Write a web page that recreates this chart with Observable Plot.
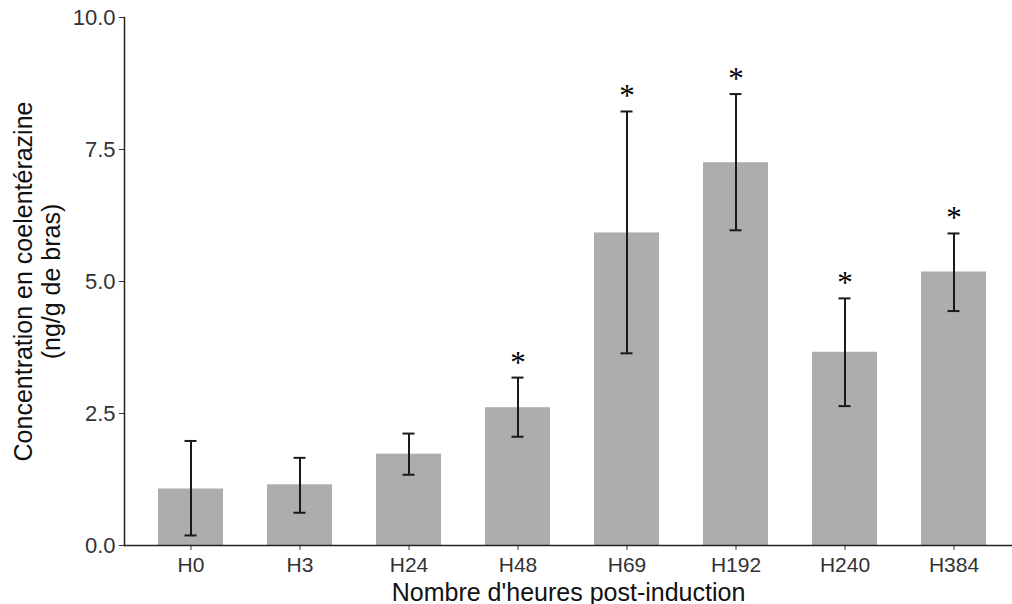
<!DOCTYPE html>
<html>
<head>
<meta charset="utf-8">
<script src="https://cdn.jsdelivr.net/npm/d3@7"></script>
<script src="https://cdn.jsdelivr.net/npm/@observablehq/plot@0.6"></script>
<style>
  html, body { margin: 0; padding: 0; background: #fff; }
  #chart svg { display: block; }
</style>
</head>
<body>
<div id="chart"></div>
<script>
const categories = ["H0", "H3", "H24", "H48", "H69", "H192", "H240", "H384"];
const means = [1.07, 1.15, 1.73, 2.61, 5.92, 7.25, 3.66, 5.18];
const lower = [0.19, 0.62, 1.34, 2.06, 3.64, 5.97, 2.64, 4.44];
const upper = [1.98, 1.66, 2.12, 3.18, 8.22, 8.55, 4.68, 5.91];
const significant = [false, false, false, true, true, true, true, true];
const yTicks = [0, 2.5, 5, 7.5, 10];
const yTitle = ["Concentration en coelentérazine\n(ng/g de bras)"];
const xTitle = "Nombre d'heures post-induction";

const data = categories.map((c, i) => ({
  cat: c, mean: means[i], lo: lower[i], hi: upper[i], sig: significant[i]
}));

const font = "'Liberation Sans', Arial, Helvetica, sans-serif";

const chart = Plot.plot({
  width: 1012,
  height: 604,
  marginLeft: 124,
  marginRight: 0,
  marginTop: 17,
  marginBottom: 59,
  style: { fontFamily: font, background: "#fff" },
  x: { type: "band", domain: categories, range: [124, 1021], paddingInner: 0.4, paddingOuter: 0.3 },
  y: { domain: [0, 10] },
  marks: [
    Plot.barY(data, { x: "cat", y: "mean", fill: "#adadad" }),
    Plot.ruleX(data, { x: "cat", y1: "lo", y2: "hi", stroke: "#1a1a1a", strokeWidth: 2 }),
    Plot.tickY(data, { x: "cat", y: "lo", stroke: "#1a1a1a", strokeWidth: 2, insetLeft: 26.5, insetRight: 26.5 }),
    Plot.tickY(data, { x: "cat", y: "hi", stroke: "#1a1a1a", strokeWidth: 2, insetLeft: 26.5, insetRight: 26.5 }),
    Plot.text(data.filter(d => d.sig), { x: "cat", y: "hi", text: () => "*", dy: -15, fontSize: 31, fill: "#000", fontFamily: "'Liberation Serif', 'Times New Roman', serif", lineAnchor: "middle" }),
    Plot.axisY({
      ticks: yTicks, tickFormat: d3.format(".1f"), tickSize: 5, tickPadding: 4,
      fontSize: 22, color: "#333", label: null
    }),
    Plot.axisX({
      tickSize: 5, tickPadding: 7, fontSize: 21, color: "#333",
      label: xTitle, labelAnchor: "center", labelOffset: 55, labelArrow: "none"
    }),
    Plot.text(yTitle, {
      frameAnchor: "left", rotate: -90, dx: -87, lineAnchor: "middle", textAnchor: "middle",
      fontSize: 25, lineHeight: 1.12, fill: "#111"
    }),
    Plot.frame({ anchor: "left", stroke: "#222", strokeWidth: 1.5 }),
    Plot.frame({ anchor: "bottom", stroke: "#222", strokeWidth: 1.5 })
  ]
});

d3.select(chart).selectAll("g[aria-label]").each(function () {
  const lab = this.getAttribute("aria-label");
  if (lab === "x-axis label") d3.select(this).attr("font-size", 25).attr("fill", "#111").selectAll("text").attr("font-size", 25).attr("fill", "#111");
});

document.getElementById("chart").appendChild(chart);
</script>
</body>
</html>
